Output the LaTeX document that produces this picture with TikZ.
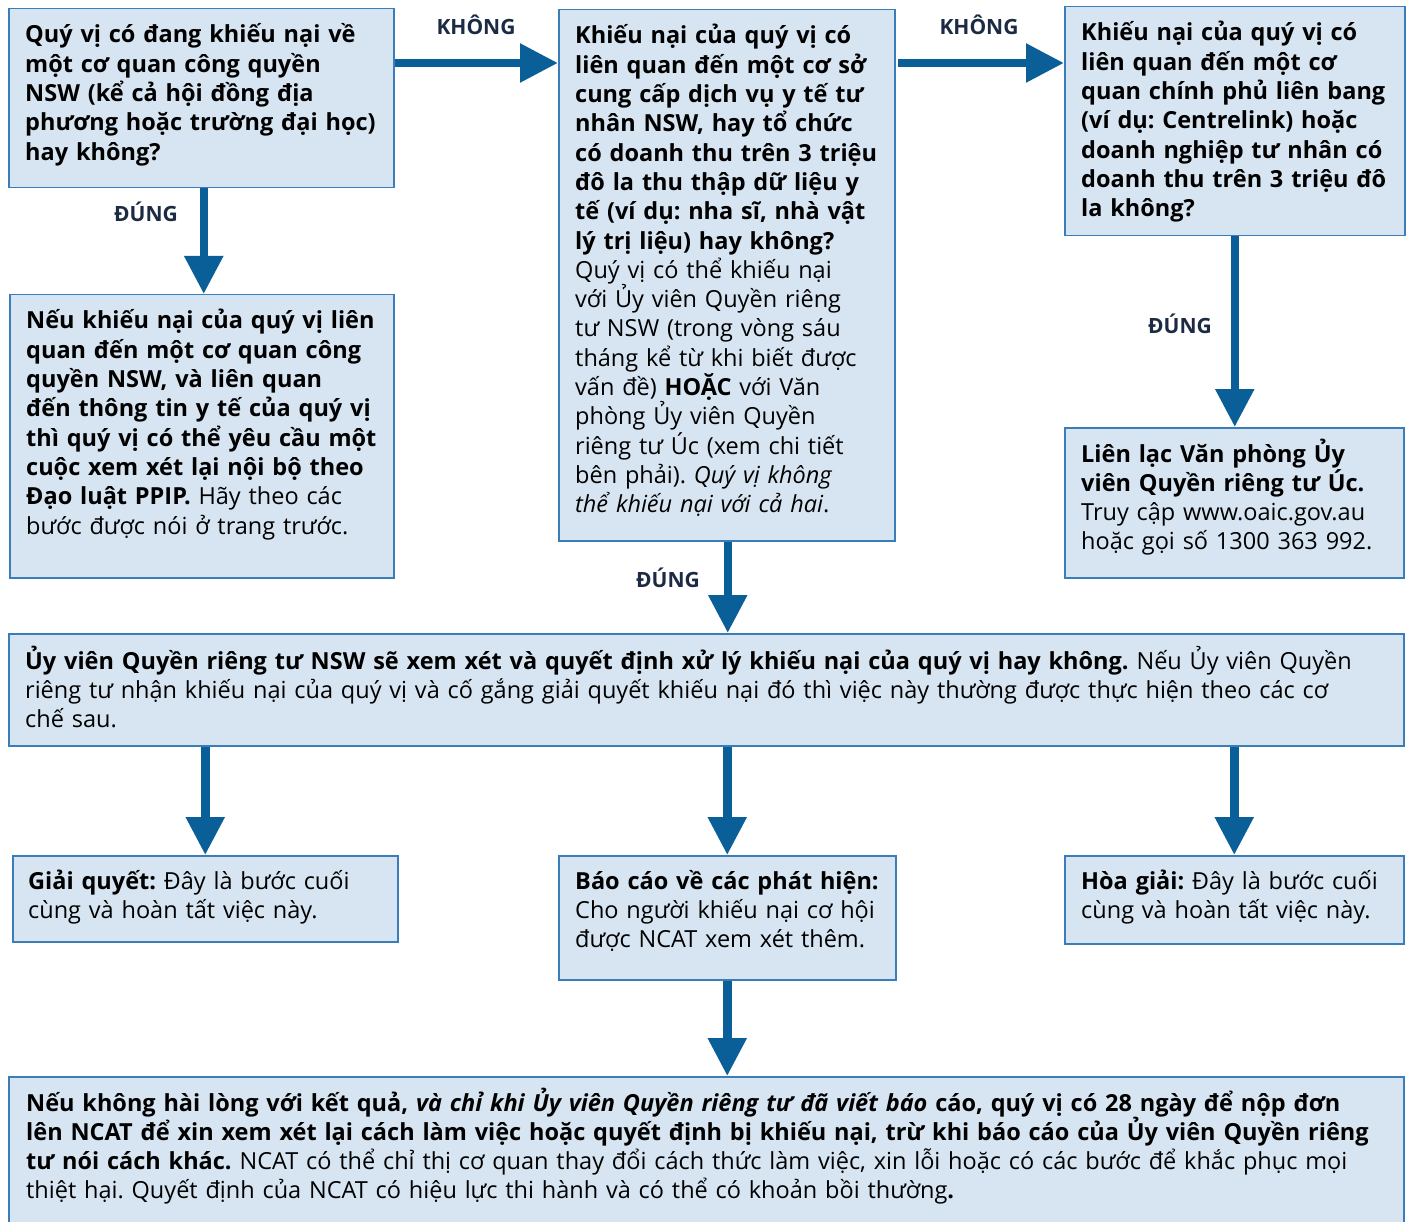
\documentclass[tikz,border=0pt]{standalone}
\usepackage{fontspec}
\IfFontExistsTF{Open Sans Bold}{\setmainfont{Open Sans}}{%
  \IfFontExistsTF{Fira Sans Bold}{\setmainfont{Fira Sans}}{%
    \setmainfont{Noto Sans}[AutoFakeBold=2.5]}}
\usetikzlibrary{arrows.meta,calc}
\definecolor{boxfill}{HTML}{D7E5F2}
\definecolor{boxline}{HTML}{3A7DB8}
\definecolor{arrc}{HTML}{0A5F99}
\definecolor{labc}{HTML}{1C2A44}
\newcommand{\bodyfont}{\fontsize{23.5}{29.3}\selectfont\frenchspacing}
\begin{document}
\begin{tikzpicture}[x=1pt,y=-1pt,
  flowbox/.style={draw=boxline,line width=1.5pt,fill=boxfill,inner sep=0pt,anchor=north west},
  txt/.style={inner sep=0pt,anchor=base west,align=left,text width=1380pt,font=\bodyfont,text=black},
  arr/.style={draw=arrc,line width=8.5pt,-{Triangle[length=38pt,width=37pt]}},
  lab/.style={inner sep=0pt,font=\fontsize{21}{23}\selectfont\bfseries,text=labc}]
\useasboundingbox (0,0) rectangle (1407,1222);
% boxes
\node[flowbox,minimum width=385pt,minimum height=179pt] (A) at (8,8) {};
\node[flowbox,minimum width=336pt,minimum height=531pt] (B) at (558,9) {};
\node[flowbox,minimum width=340pt,minimum height=229pt] (C) at (1064,6) {};
\node[flowbox,minimum width=384pt,minimum height=283pt] (D) at (9,294) {};
\node[flowbox,minimum width=339pt,minimum height=150pt] (E) at (1064,427) {};
\node[flowbox,minimum width=1395pt,minimum height=112pt] (F) at (8,633) {};
\node[flowbox,minimum width=385pt,minimum height=86pt] (G) at (12,855) {};
\node[flowbox,minimum width=337pt,minimum height=124pt] (H) at (558,855) {};
\node[flowbox,minimum width=339pt,minimum height=88pt] (I) at (1064,855) {};
\node[flowbox,minimum width=1395pt,minimum height=160pt] (J) at (8,1076) {};
% texts
\node[txt] (tA) at (25,43) {\bfseries Quý vị có đang khiếu nại về\\ một cơ quan công quyền\\ NSW (kể cả hội đồng địa\\ phương hoặc trường đại học)\\ hay không?};
\node[txt] (tB) at (575,44) {\textbf{Khiếu nại của quý vị có\\ liên quan đến một cơ sở\\ cung cấp dịch vụ y tế tư\\ nhân NSW, hay tổ chức\\ có doanh thu trên 3 triệu\\ đô la thu thập dữ liệu y\\ tế (ví dụ: nha sĩ, nhà vật\\ lý trị liệu) hay không?}\\ Quý vị có thể khiếu nại\\ với Ủy viên Quyền riêng\\ tư NSW (trong vòng sáu\\ tháng kể từ khi biết được\\ vấn đề) \textbf{HOẶC} với Văn\\ phòng Ủy viên Quyền\\ riêng tư Úc (xem chi tiết\\ bên phải). \textit{Quý vị không\\ thể khiếu nại với cả hai}.};
\node[txt] (tC) at (1081,41) {\bfseries Khiếu nại của quý vị có\\ liên quan đến một cơ\\ quan chính phủ liên bang\\ (ví dụ: Centrelink) hoặc\\ doanh nghiệp tư nhân có\\ doanh thu trên 3 triệu đô\\ la không?};
\node[txt] (tD) at (26,329) {\textbf{Nếu khiếu nại của quý vị liên\\ quan đến một cơ quan công\\ quyền NSW, và liên quan\\ đến thông tin y tế của quý vị\\ thì quý vị có thể yêu cầu một\\ cuộc xem xét lại nội bộ theo\\ Đạo luật PPIP.} Hãy theo các\\ bước được nói ở trang trước.};
\node[txt] (tE) at (1081,462) {\textbf{Liên lạc Văn phòng Ủy\\ viên Quyền riêng tư Úc.}\\ Truy cập www.oaic.gov.au\\ hoặc gọi số 1300 363 992.};
\node[txt] (tF) at (25,669) {\textbf{Ủy viên Quyền riêng tư NSW sẽ xem xét và quyết định xử lý khiếu nại của quý vị hay không.} Nếu Ủy viên Quyền\\ riêng tư nhận khiếu nại của quý vị và cố gắng giải quyết khiếu nại đó thì việc này thường được thực hiện theo các cơ\\ chế sau.};
\node[txt] (tG) at (28,889) {\textbf{Giải quyết:} Đây là bước cuối\\ cùng và hoàn tất việc này.};
\node[txt] (tH) at (575,889) {\textbf{Báo cáo về các phát hiện:}\\ Cho người khiếu nại cơ hội\\ được NCAT xem xét thêm.};
\node[txt] (tI) at (1081,889) {\textbf{Hòa giải:} Đây là bước cuối\\ cùng và hoàn tất việc này.};
\node[txt] (tJ) at (26,1111) {\textbf{Nếu không hài lòng với kết quả, \textit{và chỉ khi Ủy viên Quyền riêng tư đã viết báo} cáo, quý vị có 28 ngày để nộp đơn\\ lên NCAT để xin xem xét lại cách làm việc hoặc quyết định bị khiếu nại, trừ khi báo cáo của Ủy viên Quyền riêng\\ tư nói cách khác.} NCAT có thể chỉ thị cơ quan thay đổi cách thức làm việc, xin lỗi hoặc có các bước để khắc phục mọi\\ thiệt hại. Quyết định của NCAT có hiệu lực thi hành và có thể có khoản bồi thường\textbf{.}};
% arrows
\draw[arr] ([yshift=-55pt]A.north east) coordinate (a1) -- (a1 -| B.west);
\draw[arr] ([yshift=-54pt,xshift=2pt]B.north east) coordinate (b1) -- (b1 -| C.west);
\draw[arr] ([xshift=2.5pt]A.south) coordinate (a2) -- (a2 |- D.north);
\draw[arr] (C.south) -- (C.south |- E.north);
\draw[arr] ([xshift=1pt]B.south) coordinate (b2) -- (b2 |- F.north);
\draw[arr] (G.north |- F.south) -- (G.north);
\draw[arr] (H.north |- F.south) -- (H.north);
\draw[arr] (I.north |- F.south) -- (I.north);
\draw[arr] (H.south) -- (H.south |- J.north);
% labels
\node[lab] (l1) at (476,25) {KHÔNG};
\node[lab] (l2) at (979,25) {KHÔNG};
\node[lab] (l3) at (146,212) {ĐÚNG};
\node[lab] (l4) at (668,578) {ĐÚNG};
\node[lab] (l5) at (1180,324) {ĐÚNG};
\end{tikzpicture}
\end{document}
